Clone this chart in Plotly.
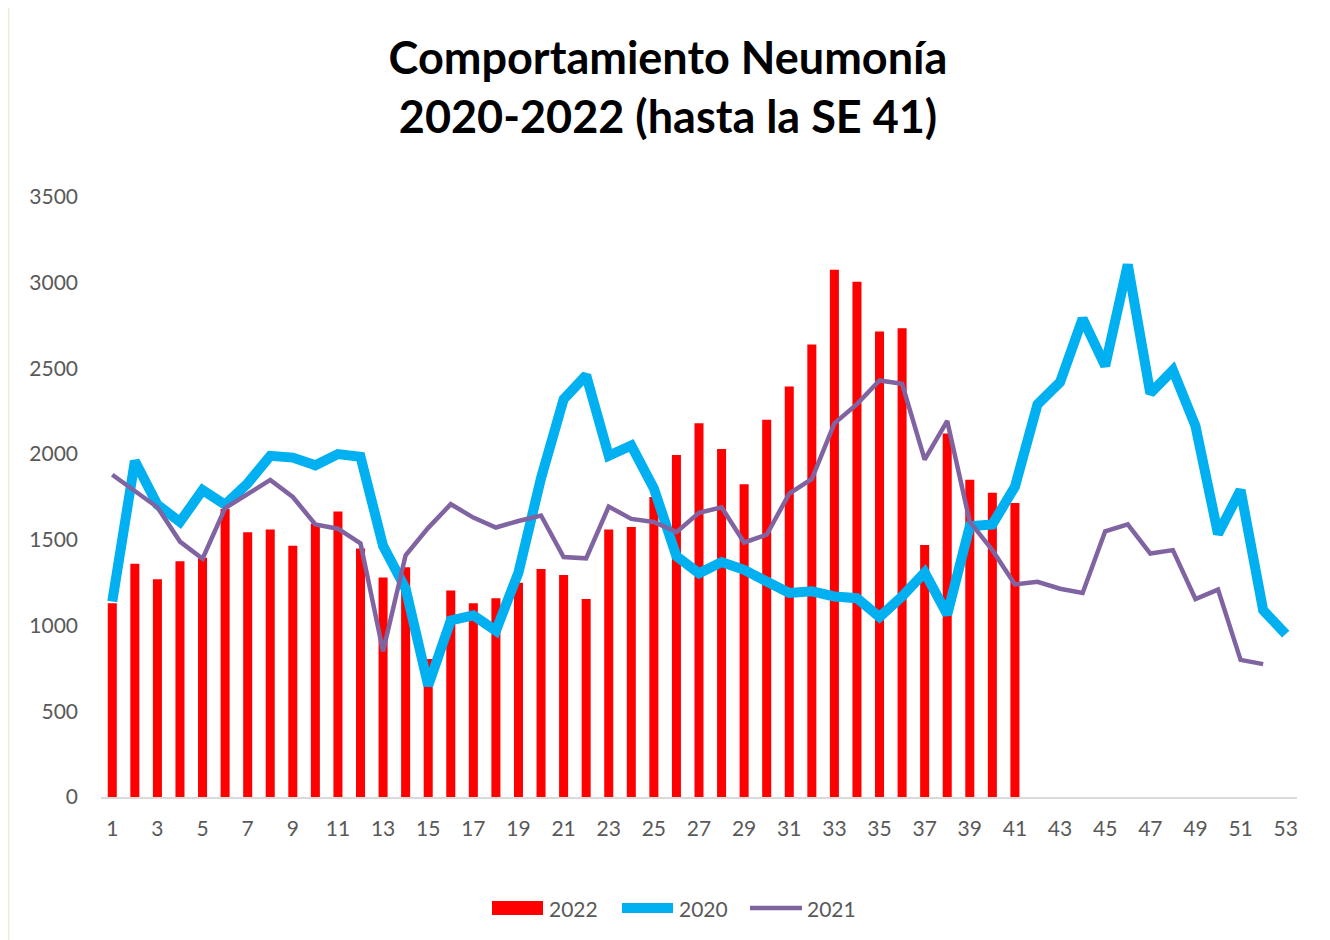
import plotly.graph_objects as go

weeks = list(range(1, 54))
tick_weeks = list(range(1, 54, 2))

cases_2022 = [1130, 1360, 1270, 1375, 1395, 1680, 1545, 1560, 1465, 1595,
              1665, 1450, 1280, 1340, 805, 1205, 1130, 1160, 1250, 1330,
              1295, 1155, 1560, 1575, 1750, 1995, 2180, 2030, 1825, 2200,
              2395, 2640, 3075, 3005, 2715, 2735, 1470, 2120, 1850, 1775,
              1715]

cases_2020 = [1140, 1960, 1705, 1605, 1790, 1705, 1830, 1990, 1980, 1935,
              2000, 1985, 1465, 1215, 650, 1030, 1060, 970, 1310, 1860,
              2320, 2460, 1990, 2050, 1800, 1405, 1305, 1370, 1325, 1255,
              1190, 1200, 1170, 1160, 1050, 1170, 1310, 1065, 1580, 1590,
              1810, 2290, 2420, 2790, 2515, 3105, 2355, 2490, 2165, 1535,
              1790, 1090, 950]

cases_2021 = [1880, 1785, 1690, 1490, 1390, 1685, 1770, 1850, 1750, 1590,
              1565, 1480, 850, 1410, 1570, 1708, 1630, 1572, 1610, 1642,
              1400, 1392, 1694, 1622, 1604, 1545, 1658, 1690, 1485, 1530,
              1770, 1855, 2180, 2292, 2430, 2410, 1968, 2194, 1605, 1440,
              1240, 1255, 1215, 1190, 1550, 1590, 1420, 1440, 1155, 1210,
              800, 775]

series_names = ["2022", "2020", "2021"]
series_colors = ["#FF0000", "#00B0F0", "#8064A2"]

# page is rendered with an 8px body margin; work in page pixel coordinates
OFF = 8
W, H = 1330 - OFF, 940 - OFF
L, T = 101 - OFF, 197 - OFF
R = W - (1297 - OFF)
B = H - (797 - OFF)
pw, ph = W - L - R, H - T - B


def px(x):
    return (x - OFF - L) / pw


def py(y):
    return (H - B - (y - OFF)) / ph


FONT = "Lato"
GRAY = "#595959"

fig = go.Figure()
fig.add_trace(go.Bar(x=weeks[:len(cases_2022)], y=cases_2022, name=series_names[0],
                     marker=dict(color=series_colors[0], line=dict(width=0)), width=0.4))
fig.add_trace(go.Scatter(x=weeks[:len(cases_2020)], y=cases_2020, name=series_names[1],
                         mode="lines", line=dict(color=series_colors[1], width=10)))
fig.add_trace(go.Scatter(x=weeks[:len(cases_2021)], y=cases_2021, name=series_names[2],
                         mode="lines", line=dict(color=series_colors[2], width=4.5)))

shapes = [dict(type="rect", xref="paper", yref="paper",
               x0=px(8), x1=px(1328.5), y0=py(945), y1=py(6),
               line=dict(color="#EEECE1", width=3), fillcolor="rgba(0,0,0,0)",
               layer="below")]
# custom legend (symbols + labels)
ly = 908
shapes.append(dict(type="rect", xref="paper", yref="paper", x0=px(492), x1=px(543),
                   y0=py(915), y1=py(901), fillcolor=series_colors[0], line=dict(width=0)))
shapes.append(dict(type="line", xref="paper", yref="paper", x0=px(622), x1=px(673),
                   y0=py(ly), y1=py(ly), line=dict(color=series_colors[1], width=10)))
shapes.append(dict(type="line", xref="paper", yref="paper", x0=px(750), x1=px(802),
                   y0=py(ly), y1=py(ly), line=dict(color=series_colors[2], width=4.5)))
annotations = []
for name, xl in zip(series_names, [547, 677, 805]):
    annotations.append(dict(text=name, xref="paper", yref="paper", x=px(xl), y=py(ly),
                            xanchor="left", yanchor="middle", showarrow=False,
                            font=dict(family=FONT, size=21, color=GRAY)))

fig.update_layout(
    width=W, height=H,
    margin=dict(l=L, r=R, t=T, b=B, pad=0),
    paper_bgcolor="white", plot_bgcolor="white",
    title=dict(text="<b>Comportamiento Neumonía<br>2020-2022 (hasta la SE 41)</b>",
               x=px(668), xref="paper", xanchor="center",
               y=1 - 66 / H, yref="container", yanchor="middle",
               font=dict(family=FONT, size=45, color="black")),
    font=dict(family=FONT, size=21, color=GRAY),
    showlegend=False,
    xaxis=dict(range=[0.5, 53.5], tickmode="array", tickvals=tick_weeks,
               ticktext=[str(w) for w in tick_weeks], showgrid=False, zeroline=False,
               showline=True, linecolor="#D9D9D9", linewidth=1.5, ticks="",
               ticklabelstandoff=12,
               tickfont=dict(family=FONT, size=21, color=GRAY)),
    yaxis=dict(range=[0, 3500], dtick=500, showgrid=False, zeroline=False,
               showline=False, ticks="", ticklabelstandoff=22,
               tickfont=dict(family=FONT, size=21, color=GRAY)),
    shapes=shapes,
    annotations=annotations,
)

fig.write_html("out.html")
